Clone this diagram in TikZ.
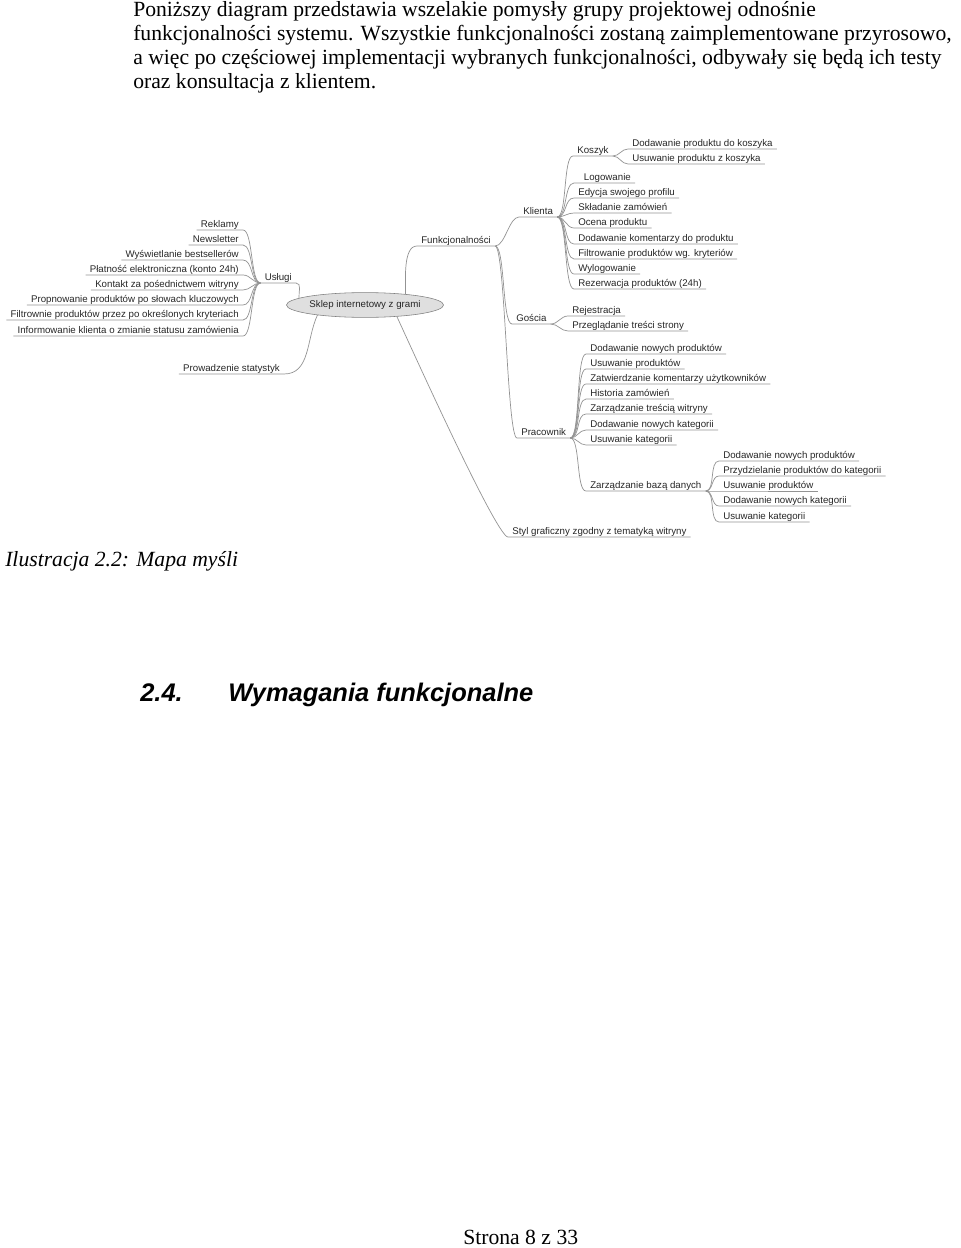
\documentclass[tikz,border=0pt]{standalone}
\usepackage{fontspec}
\setmainfont{Liberation Serif}
\setsansfont{Liberation Sans}
\usetikzlibrary{shapes.geometric}

\begin{document}
\begin{tikzpicture}[x=0.025cm, y=-0.025cm,
    body/.style={anchor=base west, inner sep=0pt, font=\fontsize{15.4}{18}\selectfont},
    item/.style={inner xsep=0.1cm, inner ysep=1.2pt, text depth=0.5pt, text=black!85, font=\sffamily\fontsize{6.9}{8}\selectfont},
    rnode/.style={item, anchor=south west},
    lnode/.style={item, anchor=south east},
    branch/.style={draw=gray!85, line width=0.5pt}]
  \useasboundingbox (0,0) rectangle (960,1248);

  % text of the page
  \node[body] (par1) at (133,16.5) {Poniższy diagram przedstawia wszelakie pomysły grupy projektowej odnośnie};
  \node[body] (par2) at (133,40.5) {funkcjonalności systemu. Wszystkie funkcjonalności zostaną zaimplementowane przyrosowo,};
  \node[body] (par3) at (133,64.5) {a więc po częściowej implementacji wybranych funkcjonalności, odbywały się będą ich testy};
  \node[body] (par4) at (133,88.5) {oraz konsultacja z klientem.};

  % mind map
  \node[ellipse, draw=gray, fill=gray!25, minimum width=3.25cm, minimum height=0.62cm, inner sep=0pt,
        text=black!85, font=\sffamily\fontsize{6.9}{8}\selectfont] (sklep) at (365,305) {Sklep internetowy z grami};

  \node[rnode] (funk) at (417,246) {Funkcjonalności};
  \node[rnode] (klienta) at (519,217) {Klienta};
  \node[rnode] (koszyk) at (573,156) {Koszyk};
  \node[rnode] (koszdod) at (628,149) {Dodawanie produktu do koszyka};
  \node[rnode] (koszusu) at (628,164) {Usuwanie produktu z koszyka};
  \node[rnode] (logow) at (574,183) {\hspace*{4pt}Logowanie};
  \node[rnode] (edycja) at (574,198) {Edycja swojego profilu};
  \node[rnode] (sklad) at (574,213) {Składanie zamówień};
  \node[rnode] (ocena) at (574,228) {Ocena produktu};
  \node[rnode] (koment) at (574,244) {Dodawanie komentarzy do produktu};
  \node[rnode] (filtr) at (574,259) {Filtrowanie produktów wg. kryteriów};
  \node[rnode] (wylog) at (574,274) {Wylogowanie};
  \node[rnode] (rezerw) at (574,289) {Rezerwacja produktów (24h)};

  \node[rnode] (goscia) at (512,324) {Gościa};
  \node[rnode] (rejestr) at (568,316) {Rejestracja};
  \node[rnode] (przegl) at (568,331) {Przeglądanie treści strony};

  \node[rnode] (pracownik) at (517,438) {Pracownik};
  \node[rnode] (pdodprod) at (586,354) {Dodawanie nowych produktów};
  \node[rnode] (pusuprod) at (586,369) {Usuwanie produktów};
  \node[rnode] (pzatw) at (586,384) {Zatwierdzanie komentarzy użytkowników};
  \node[rnode] (phist) at (586,399) {Historia zamówień};
  \node[rnode] (ptresc) at (586,414) {Zarządzanie treścią witryny};
  \node[rnode] (pdodkat) at (586,430) {Dodawanie nowych kategorii};
  \node[rnode] (pusukat) at (586,445) {Usuwanie kategorii};
  \node[rnode] (baza) at (586,491) {Zarządzanie bazą danych};
  \node[rnode] (bdodprod) at (719,461) {Dodawanie nowych produktów};
  \node[rnode] (bprzyd) at (719,476) {Przydzielanie produktów do kategorii};
  \node[rnode] (busuprod) at (719,491) {Usuwanie produktów};
  \node[rnode] (bdodkat) at (719,506) {Dodawanie nowych kategorii};
  \node[rnode] (busukat) at (719,522) {Usuwanie kategorii};

  \node[rnode] (styl) at (508,537) {Styl graficzny zgodny z tematyką witryny};

  \node[lnode] (uslugi) at (296,283) {Usługi};
  \node[lnode] (reklamy) at (243,230) {Reklamy};
  \node[lnode] (newsl) at (243,245) {Newsletter};
  \node[lnode] (bestsel) at (243,260) {Wyświetlanie bestsellerów};
  \node[lnode] (platnosc) at (243,275) {Płatność elektroniczna (konto 24h)};
  \node[lnode] (kontakt) at (243,290) {Kontakt za pośednictwem witryny};
  \node[lnode] (propon) at (243,305) {Propnowanie produktów po słowach kluczowych};
  \node[lnode] (filtrow) at (243,320) {Filtrownie produktów przez po określonych kryteriach};
  \node[lnode] (inform) at (243,336) {Informowanie klienta o zmianie statusu zamówienia};

  \node[lnode] (statyst) at (284,374) {Prowadzenie statystyk};

  % branches
  \draw[branch] (sklep.15) to[out=90,in=180,max distance=0.35cm] (funk.south west) -- (funk.south east);
  \draw[branch] (sklep.174) to[out=95,in=0,max distance=0.2cm] (uslugi.south east) -- (uslugi.south west);
  \draw[branch] (sklep.192) to[out=-115,in=0] (statyst.south east) -- (statyst.south west);
  \draw[branch] (sklep.-20) to[out=-64,in=180,max distance=0.3cm] (styl.south west) -- (styl.south east);
  \foreach \n in {klienta,goscia,pracownik}
    \draw[branch] (funk.south east) to[out=0,in=180,max distance=0.25cm] (\n.south west) -- (\n.south east);
  \foreach \n in {koszyk,logow,edycja,sklad,ocena,koment,filtr,wylog,rezerw}
    \draw[branch] (klienta.south east) to[out=0,in=180,max distance=0.25cm] (\n.south west) -- (\n.south east);
  \foreach \n in {koszdod,koszusu}
    \draw[branch] (koszyk.south east) to[out=0,in=180,max distance=0.25cm] (\n.south west) -- (\n.south east);
  \foreach \n in {rejestr,przegl}
    \draw[branch] (goscia.south east) to[out=0,in=180,max distance=0.25cm] (\n.south west) -- (\n.south east);
  \foreach \n in {pdodprod,pusuprod,pzatw,phist,ptresc,pdodkat,pusukat,baza}
    \draw[branch] (pracownik.south east) to[out=0,in=180,max distance=0.25cm] (\n.south west) -- (\n.south east);
  \foreach \n in {bdodprod,bprzyd,busuprod,bdodkat,busukat}
    \draw[branch] (baza.south east) to[out=0,in=180,max distance=0.25cm] (\n.south west) -- (\n.south east);
  \foreach \n in {reklamy,newsl,bestsel,platnosc,kontakt,propon,filtrow,inform}
    \draw[branch] (uslugi.south west) to[out=180,in=0,max distance=0.25cm] (\n.south east) -- (\n.south west);

  % caption, heading, footer
  \node[body, font=\itshape\fontsize{15.4}{18}\selectfont] (caption) at (5,566) {Ilustracja 2.2: Mapa myśli};
  \node[body, font=\sffamily\bfseries\itshape\fontsize{18.1}{21}\selectfont] (secnum) at (140,701) {2.4.};
  \node[body, font=\sffamily\bfseries\itshape\fontsize{18.1}{21}\selectfont] (sectitle) at (228,701) {Wymagania funkcjonalne};
  \node[body] (footer) at (463,1244) {Strona 8 z 33};
\end{tikzpicture}
\end{document}
